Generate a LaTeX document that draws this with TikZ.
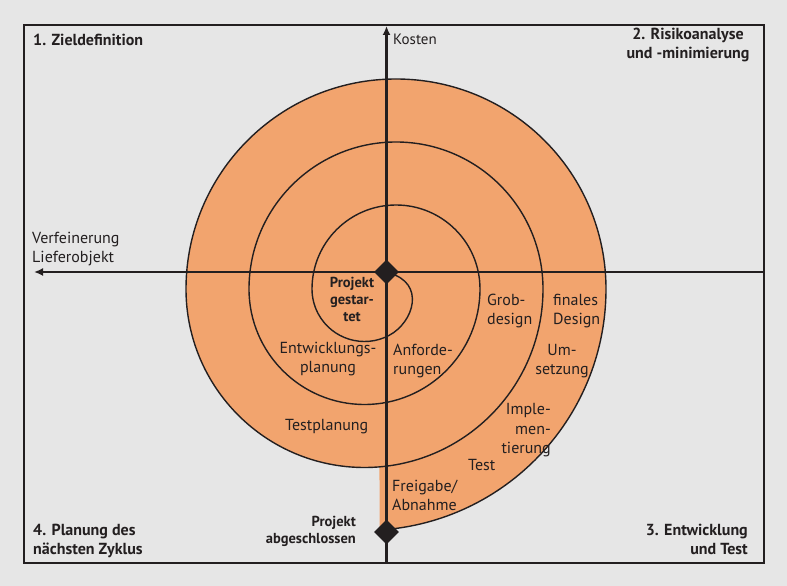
\documentclass[tikz,border=0pt]{standalone}
\usepackage{fontspec}
\setmainfont{PT Sans}
\usetikzlibrary{shapes.geometric}
\usetikzlibrary{arrows.meta}
\usetikzlibrary{calc}

\definecolor{bggray}{RGB}{230,230,230}
\definecolor{spiralorange}{RGB}{242,164,110}
\definecolor{darkink}{RGB}{35,31,32}

\tikzset{
  phase/.style={text=darkink, inner sep=0pt, font=\fontsize{16}{19.5}\selectfont},
  corner/.style={text=darkink, inner sep=0pt, font=\fontsize{16}{19.5}\selectfont\bfseries},
  milestonetext/.style={text=darkink, inner sep=0pt, font=\fontsize{14.5}{17}\selectfont\bfseries},
  axisline/.style={draw=darkink, line width=2.2pt, -{Latex[length=9pt,width=8pt]}},
  spiralline/.style={draw=darkink, line width=1.4pt},
  marker/.style={diamond, fill=darkink, inner sep=0pt, minimum width=25pt, minimum height=25pt},
}

\begin{document}
\begin{tikzpicture}[x=1pt,y=1pt]

    % background and frame
    \fill[bggray] (0,0) rectangle (787,586);
    \useasboundingbox (0,0) rectangle (787,586);
    \draw[darkink, line width=1.3pt] (24,23) rectangle (764,561);

    % centres of the upper and lower half circles
    \coordinate (upperC) at (396,297);
    \coordinate (lowerC) at (364.5,297);

    % spiral area
    \fill[spiralorange] ($(lowerC)+(-85.18:178.5)$) arc[start angle=-85.18, end angle=-180, radius=178.5]
        arc[start angle=180, end angle=0, radius=210]
        arc[start angle=0, end angle=-85, radius=241.5] -- (379.5,56.4) -- cycle;

    % spiral line
    \draw[spiralline] (389,313) .. controls (426,303) and (413.8,263.7) .. ($(lowerC)+(-62:52.5)$)
        arc[start angle=-62, end angle=-180, radius=52.5]
        arc[start angle=180, end angle=0, radius=84]
        arc[start angle=0, end angle=-180, radius=115.5]
        arc[start angle=180, end angle=0, radius=147]
        arc[start angle=0, end angle=-180, radius=178.5]
        arc[start angle=180, end angle=0, radius=210]
        arc[start angle=0, end angle=-85, radius=241.5];

    % axes
    \coordinate (axisBottom) at (386.5,23);
    \coordinate (axisTop) at (386.5,560);
    \coordinate (axisRight) at (764,314);
    \coordinate (axisLeft) at (34,314);
    \draw[axisline] (axisBottom) -- (axisTop);
    \draw[axisline] (axisRight) -- (axisLeft);

    % milestones
    \node[marker] (ndStart) at (386.5,314) {};
    \node[marker] (ndEnd) at (386.5,54) {};

    % quadrants (base = last line)
    \node[corner, anchor=base west] (ndGoal) at (33,540) {1. Zieldefinition};
    \node[corner, align=center, anchor=base] (ndRisk) at (688,527) {2. Risikoanalyse\\und -minimierung};
    \node[corner, align=right, anchor=base east] (ndBuild) at (748,31) {3. Entwicklung\\und Test};
    \node[corner, align=left, anchor=base west] (ndPlan) at (33,31) {4. Planung des\\nächsten Zyklus};

    % axis labels
    \node[phase, anchor=base west, font=\fontsize{15}{18}\selectfont] (ndCost) at (393,541) {Kosten};
    \node[phase, align=left, anchor=base west] (ndRefine) at (32,323) {Verfeinerung\\Lieferobjekt};

    % phases
    \node[milestonetext, align=center, anchor=base] (ndStartText) at (352,264) {Projekt\\gestar-\\tet};
    \node[milestonetext, align=right, anchor=base east] (ndEndText) at (356,42) {Projekt\\abgeschlossen};
    \node[phase, align=center, anchor=base] (ndDevPlan) at (328,213) {Entwicklungs-\\planung};
    \node[phase, align=left, anchor=base west] (ndReq) at (393,211) {Anforde-\\rungen};
    \node[phase, align=left, anchor=base west] (ndRough) at (487,261) {Grob-\\design};
    \node[phase, align=left, anchor=base west] (ndFinal) at (553,261) {finales\\Design};
    \node[phase, align=center, anchor=base] (ndRealise) at (562,211) {Um-\\setzung};
    \node[phase, align=right, anchor=base east] (ndImpl) at (551,132) {Imple-\\men-\\tierung};
    \node[phase, anchor=base west] (ndTest) at (468,115) {Test};
    \node[phase, align=left, anchor=base west] (ndRelease) at (392,75) {Freigabe/\\Abnahme};
    \node[phase, anchor=base west] (ndTestPlan) at (285,155) {Testplanung};
\end{tikzpicture}
\end{document}
